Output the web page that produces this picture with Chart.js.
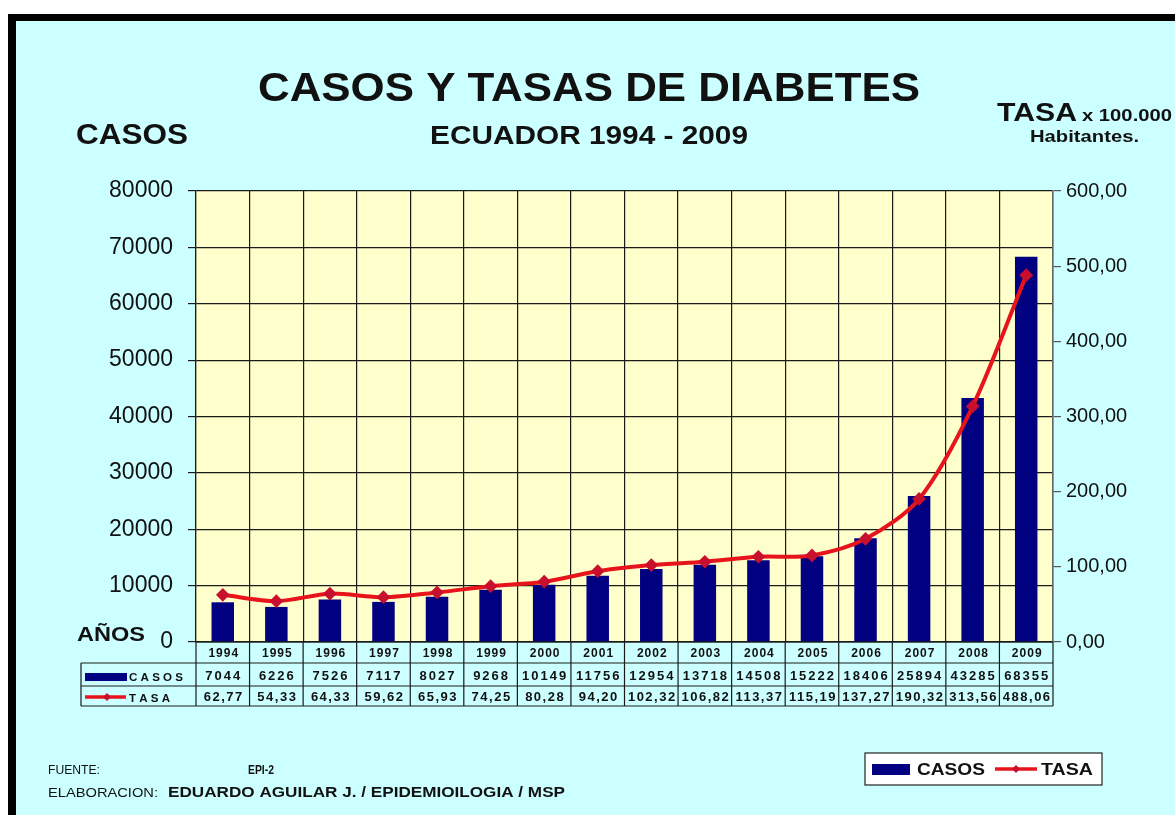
<!DOCTYPE html>
<html>
<head>
<meta charset="utf-8">
<script src="https://cdn.jsdelivr.net/npm/chart.js@4/dist/chart.umd.min.js"></script>
<style>
  html, body { margin: 0; padding: 0; background: #ffffff; }
  #grafico { display: block; }
</style>
</head>
<body>
<canvas id="grafico" width="1175" height="815"></canvas>
<script>
// datos
const anios = ["1994", "1995", "1996", "1997", "1998", "1999", "2000", "2001",
               "2002", "2003", "2004", "2005", "2006", "2007", "2008", "2009"];
const casos = [7044, 6226, 7526, 7117, 8027, 9268, 10149, 11756,
               12954, 13718, 14508, 15222, 18406, 25894, 43285, 68355];
const tasas = [62.77, 54.33, 64.33, 59.62, 65.93, 74.25, 80.28, 94.20,
               102.32, 106.82, 113.37, 115.19, 137.27, 190.32, 313.56, 488.06];
const etiquetasTabla = ["C A S O S", "T A S A"];

const AZUL = "#000080";
const ROJO = "#e8141c";
const CIAN = "#ccffff";
const AMARILLO = "#ffffcc";
const NEGRO = "#1a1a1a";

function fmtTasa(v) {
    return v.toFixed(2).replace(".", ",");
}

// texto con ajuste horizontal opcional al ancho deseado
function texto(ctx, str, x, y, font, align, ancho, espaciado) {
    ctx.save();
    ctx.font = font;
    ctx.letterSpacing = espaciado || "0px";
    ctx.textBaseline = "alphabetic";
    ctx.fillStyle = "#111";
    let sx = 1;
    const w = ctx.measureText(str).width;
    if (ancho) sx = ancho / w;
    ctx.translate(x, y);
    ctx.scale(sx, 1);
    ctx.textAlign = align || "left";
    ctx.fillText(str, 0, 0);
    ctx.restore();
}

function diamante(ctx, x, y, r, color) {
    ctx.beginPath();
    ctx.moveTo(x, y - r);
    ctx.lineTo(x + r, y);
    ctx.lineTo(x, y + r);
    ctx.lineTo(x - r, y);
    ctx.closePath();
    ctx.fillStyle = color;
    ctx.fill();
}

// fondo, marco negro y area del grafico
const pluginFondo = {
    id: "fondo",
    beforeDraw(chart) {
        const ctx = chart.ctx;
        const a = chart.chartArea;
        ctx.save();
        ctx.fillStyle = "#ffffff";
        ctx.fillRect(0, 0, chart.width, chart.height);
        ctx.fillStyle = "#000000";
        ctx.fillRect(8, 14, chart.width - 8, chart.height - 14);
        ctx.fillStyle = CIAN;
        ctx.fillRect(16, 21, chart.width - 16, chart.height - 21);
        ctx.fillStyle = AMARILLO;
        ctx.fillRect(a.left, a.top, a.right - a.left, a.bottom - a.top);
        ctx.restore();
    }
};

// tabla de datos bajo el eje x, titulos, pie y leyenda
const pluginTabla = {
    id: "tabla",
    afterDraw(chart) {
        const ctx = chart.ctx;
        const x = chart.scales.x;
        const a = chart.chartArea;
        const paso = (a.right - a.left) / anios.length;
        const filas = [a.bottom, 663, 686, 706];
        const izq = 81;

        ctx.save();
        ctx.strokeStyle = NEGRO;
        ctx.lineWidth = 1.2;
        ctx.beginPath();
        // lineas horizontales
        ctx.moveTo(a.left, filas[0]); ctx.lineTo(a.right, filas[0]);
        for (let i = 1; i < filas.length; i++) {
            ctx.moveTo(izq, filas[i]); ctx.lineTo(a.right, filas[i]);
        }
        // lineas verticales
        ctx.moveTo(izq, filas[1]); ctx.lineTo(izq, filas[3]);
        for (let i = 0; i <= anios.length; i++) {
            const px = a.left + i * paso;
            ctx.moveTo(px, filas[0]); ctx.lineTo(px, filas[3]);
        }
        ctx.stroke();
        ctx.restore();

        anios.forEach((anio, i) => {
            const cx = x.getPixelForValue(i);
            texto(ctx, anio, cx + 1, 657, "bold 12px Arial", "center", null, "1px");
            texto(ctx, String(casos[i]), cx + 1, 680, "bold 13px Arial", "center", null, "2px");
            texto(ctx, fmtTasa(tasas[i]), cx + 1, 701, "bold 13px Arial", "center", null, "1.5px");
        });

        // etiquetas de filas con simbolos
        ctx.save();
        ctx.fillStyle = AZUL;
        ctx.fillRect(85, 673, 42, 8);
        ctx.strokeStyle = ROJO;
        ctx.lineWidth = 3.5;
        ctx.beginPath();
        ctx.moveTo(85, 697); ctx.lineTo(126, 697);
        ctx.stroke();
        ctx.restore();
        diamante(ctx, 107, 697, 4, "#c8102e");
        texto(ctx, etiquetasTabla[0], 129, 681, "bold 11px Arial", "left", 54);
        texto(ctx, etiquetasTabla[1], 129, 702, "bold 11px Arial", "left", 41);

        // titulos
        texto(ctx, "CASOS Y TASAS DE DIABETES", 589, 101, "bold 40px Arial", "center", 662);
        texto(ctx, "ECUADOR 1994 - 2009", 589, 144, "bold 26px Arial", "center", 318);
        texto(ctx, "CASOS", 76, 144, "bold 29px Arial", "left", 112);
        texto(ctx, "TASA", 997, 121, "bold 26px Arial", "left", 80);
        texto(ctx, "x 100.000", 1082, 121, "bold 17px Arial", "left", 90);
        texto(ctx, "Habitantes.", 1030, 142, "bold 16px Arial", "left", 109);
        texto(ctx, "AÑOS", 77, 641, "bold 21px Arial", "left", 68);

        // pie
        texto(ctx, "FUENTE:", 48, 774, "13px Arial", "left", 52);
        texto(ctx, "EPI-2", 248, 774, "bold 13px Arial", "left", 26);
        texto(ctx, "ELABORACION:", 48, 797, "13px Arial", "left", 110);
        texto(ctx, "EDUARDO AGUILAR J. / EPIDEMIOILOGIA / MSP", 168, 797, "bold 14px Arial", "left", 397);

        // leyenda
        ctx.save();
        ctx.fillStyle = "#ffffff";
        ctx.fillRect(865, 753, 237, 32);
        ctx.strokeStyle = "#222";
        ctx.lineWidth = 1.2;
        ctx.strokeRect(865, 753, 237, 32);
        ctx.fillStyle = AZUL;
        ctx.fillRect(872, 764, 38, 11);
        ctx.strokeStyle = ROJO;
        ctx.lineWidth = 3.5;
        ctx.beginPath();
        ctx.moveTo(995, 769); ctx.lineTo(1037, 769);
        ctx.stroke();
        ctx.restore();
        diamante(ctx, 1016, 769, 4, "#c8102e");
        texto(ctx, "CASOS", 917, 775, "bold 17px Arial", "left", 68);
        texto(ctx, "TASA", 1041, 775, "bold 17px Arial", "left", 52);
    }
};

new Chart(document.getElementById("grafico"), {
    type: "bar",
    data: {
        labels: anios,
        datasets: [
            {
                type: "line",
                label: "TASA",
                data: tasas,
                yAxisID: "y1",
                borderColor: ROJO,
                borderWidth: 4,
                tension: 0.3,
                pointStyle: "rectRot",
                pointRadius: 4,
                pointBackgroundColor: "#c8102e",
                pointBorderColor: "#c8102e",
                order: 0,
            },
            {
                label: "CASOS",
                data: casos,
                yAxisID: "y",
                backgroundColor: AZUL,
                barPercentage: 0.42,
                categoryPercentage: 1,
                order: 1,
            },
        ],
    },
    options: {
        responsive: false,
        animation: false,
        layout: { padding: { top: 191, left: 0, right: 0, bottom: 0 } },
        plugins: {
            legend: { display: false },
            title: { display: false },
            tooltip: { enabled: false },
        },
        scales: {
            x: {
                offset: true,
                grid: { offset: true, color: NEGRO, lineWidth: 1.2, drawTicks: false },
                border: { color: NEGRO, width: 1.2 },
                ticks: { display: false },
                afterFit: s => { s.height = 815 - 642; },
            },
            y: {
                position: "left",
                min: 0,
                max: 80000,
                ticks: {
                    stepSize: 10000,
                    padding: 15,
                    color: "#111",
                    font: { family: "Arial", size: 23 },
                    callback: v => String(v),
                },
                grid: { color: NEGRO, lineWidth: 1.2, tickLength: 8 },
                border: { color: NEGRO, width: 1.2 },
                afterFit: s => { s.width = 196; },
            },
            y1: {
                position: "right",
                min: 0,
                max: 600,
                ticks: {
                    stepSize: 100,
                    padding: 5,
                    color: "#111",
                    font: { family: "Arial", size: 20 },
                    callback: v => fmtTasa(v),
                },
                grid: { drawOnChartArea: false, color: "#555", lineWidth: 1.2, tickLength: 8 },
                border: { color: "#666", width: 1.5 },
                afterFit: s => { s.width = 1175 - 1053; },
            },
        },
    },
    plugins: [pluginFondo, pluginTabla],
});
</script>
</body>
</html>
